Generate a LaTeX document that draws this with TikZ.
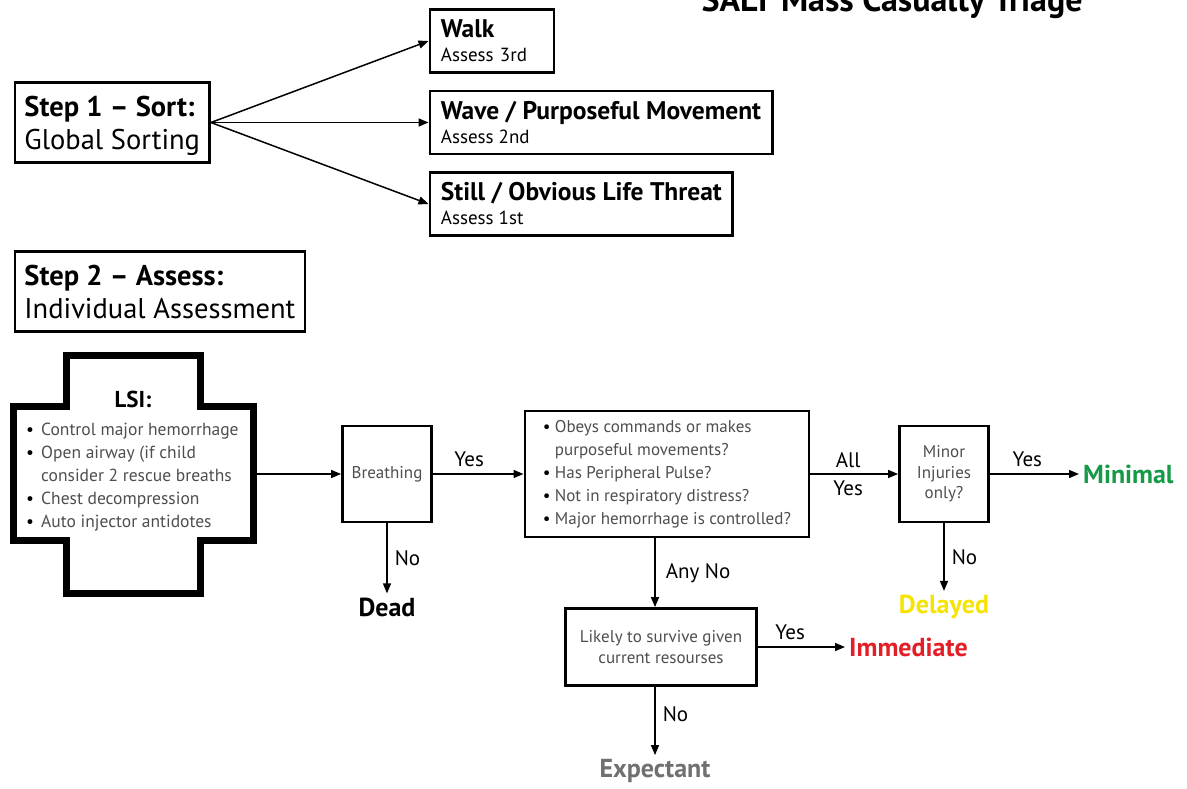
\documentclass[tikz,border=0pt]{standalone}
\usepackage{fontspec}
\setmainfont{PT Sans}
\usetikzlibrary{arrows.meta}

\definecolor{minimalgreen}{RGB}{22,154,72}
\definecolor{delayedyellow}{RGB}{246,228,0}
\definecolor{immediatered}{RGB}{228,30,38}
\definecolor{expectantgray}{RGB}{112,112,112}
\definecolor{softtext}{RGB}{78,78,78}

\newcommand{\itemdot}[1][15pt]{\makebox[#1][l]{\color{black}\textbullet}}
\newcommand{\sorthead}[1]{{\bfseries\fontsize{25.5}{24}\selectfont #1}}

\tikzset{
  arr/.style={-{Triangle[length=10pt,width=8pt]}, line width=1.5pt},
  stepbox/.style={draw, line width=2.8pt, anchor=west, align=left, inner xsep=9.5pt,
    minimum height=80pt, text depth=0pt, font=\fontsize{28.5}{33}\selectfont},
  sortbox/.style={draw, line width=2.8pt, anchor=west, align=left, inner xsep=11pt,
    minimum height=63pt, font=\fontsize{19}{24}\selectfont},
  checkbox/.style={draw, line width=2.8pt, align=center, inner sep=0pt, text=softtext,
    font=\fontsize{17}{20.5}\selectfont},
  lbl/.style={font=\fontsize{21}{28}\selectfont, inner sep=7pt},
  outcome/.style={font=\bfseries\fontsize{26}{30}\selectfont, inner sep=4pt},
}

\begin{document}
\begin{tikzpicture}[x=1pt,y=-1pt]
  \useasboundingbox (0,0) rectangle (1187,788);

  % Title, its top runs off the page
  \node[font=\bfseries\fontsize{34}{34}\selectfont, anchor=base] (title) at (892,11)
    {SALT Mass Casualty Triage};

%%%%%%%%%%%%%%%%%%%%%%%%%%%%%%%%%%%%%%%%%%
  % Step 1: global sorting
  \begin{scope}
    \node[stepbox] (sort) at (13.5,122.5) {\textbf{Step 1 – Sort:}\\Global Sorting};

    \node[sortbox, text width=102pt] (walk) at (428.5,41) {\sorthead{Walk}\\Assess 3rd};
    \node[sortbox] (wave) at (428.5,122.5) {\sorthead{Wave / Purposeful Movement}\\Assess 2nd};
    \node[sortbox] (still) at (428.5,204) {\sorthead{Still / Obvious Life Threat}\\Assess 1st};

    \draw[arr] (sort.east) -- (walk.west);
    \draw[arr] (sort.east) -- (wave.west);
    \draw[arr] (sort.east) -- (still.west);
  \end{scope}

%%%%%%%%%%%%%%%%%%%%%%%%%%%%%%%%%%%%%%%%%%
  % Step 2: individual assessment
  \begin{scope}
    \node[stepbox] (assess) at (13.5,291.5) {\textbf{Step 2 – Assess:}\\Individual Assessment};

    % LSI cross
    \draw[line width=7pt] (66.5,355.5) -- (200.5,355.5) -- (200.5,406.5) -- (253.5,406.5)
      -- (253.5,540.5) -- (200.5,540.5) -- (200.5,593.5) -- (66.5,593.5)
      -- (66.5,540.5) -- (13.5,540.5) -- (13.5,406.5) -- (66.5,406.5) -- cycle;
    \node[font=\bfseries\fontsize{23}{23}\selectfont, anchor=base] (lsititle) at (133,407) {LSI:};
    \node[anchor=north west, align=left, inner sep=0pt, text=softtext,
      font=\fontsize{17.5}{23}\selectfont] (lsilist) at (26,422.5)
      {\itemdot Control major hemorrhage\\
       \itemdot Open airway (if child\\
       \hspace*{15pt}consider 2 rescue breaths\\
       \itemdot Chest decompression\\
       \itemdot Auto injector antidotes};
    \coordinate (lsiout) at (257,474);

    % Checks
    \node[checkbox, minimum width=89pt, minimum height=96pt] (breath) at (387,474) {Breathing};
    \node[checkbox, anchor=west, align=left, inner xsep=18pt, minimum height=126pt,
      font=\fontsize{17}{23}\selectfont] (obeys) at (523.5,474)
      {\itemdot[12pt]Obeys commands or makes\\
       \hspace*{12pt}purposeful movements?\\
       \itemdot[12pt]Has Peripheral Pulse?\\
       \itemdot[12pt]Not in respiratory distress?\\
       \itemdot[12pt]Major hemorrhage is controlled?};
    \node[checkbox, minimum width=89pt, minimum height=96pt] (minor) at (944,474) {Minor\\Injuries\\only?};
    \node[checkbox, minimum width=191pt, minimum height=77pt] (likely) at (661,647)
      {Likely to survive given\\current resourses};
    \coordinate (anyno) at ([xshift=-6pt]likely.north);

    % Outcomes
    \node[outcome] (dead) at (387,607) {Dead};
    \node[outcome, text=minimalgreen, anchor=west] (minimal) at (1079,474) {Minimal};
    \node[outcome, text=delayedyellow] (delayed) at (944,607) {Delayed};
    \node[outcome, text=immediatered, anchor=west] (immediate) at (845,647) {Immediate};
    \node[outcome, text=expectantgray] (expectant) at (655,771) {Expectant};

    % Connectors
    \draw[arr] (lsiout) -- (breath.west);
    \draw[arr] (breath) -- node[lbl, above, pos=0.4] {Yes} (obeys);
    \draw[arr] (breath) -- node[lbl, right] {No} (dead);
    \draw[arr] (obeys) -- node[lbl, align=center, xshift=-6pt] {All\\Yes} (minor);
    \draw[arr] (minor) -- node[lbl, above, pos=0.42] {Yes} (minimal);
    \draw[arr] (minor) -- node[lbl, right] {No} (delayed);
    \draw[arr] (anyno |- obeys.south) -- node[lbl, right, xshift=3pt] {Any No} (anyno);
    \draw[arr] (likely) -- node[lbl, above, pos=0.37] {Yes} (immediate);
    \draw[arr] ([xshift=-6pt]likely.south) -- node[lbl, right, pos=0.4] {No} (expectant);
  \end{scope}
\end{tikzpicture}
\end{document}
